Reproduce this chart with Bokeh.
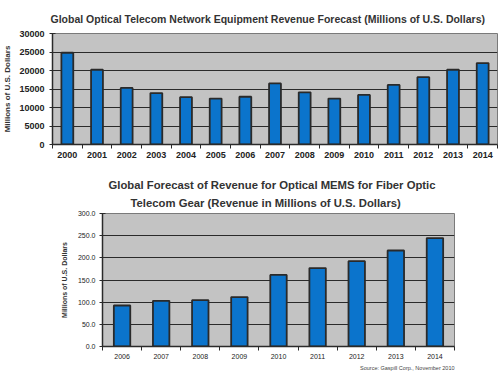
from bokeh.plotting import figure
from bokeh.models import FixedTicker, Range1d, Title, NumeralTickFormatter
from bokeh.embed import file_html
from bokeh.resources import INLINE

# ---- data ----
years_top = ["2000", "2001", "2002", "2003", "2004", "2005", "2006", "2007",
             "2008", "2009", "2010", "2011", "2012", "2013", "2014"]
revenue_top = [24800, 20200, 15300, 13900, 12800, 12400, 12900, 16500,
               14100, 12400, 13400, 16100, 18200, 20200, 22000]

years_bot = ["2006", "2007", "2008", "2009", "2010", "2011", "2012", "2013", "2014"]
revenue_bot = [92.5, 103.0, 104.5, 111.5, 161.5, 177.0, 192.5, 216.5, 244.5]

title_top = "Global Optical Telecom Network Equipment Revenue Forecast (Millions of U.S. Dollars)"
title_bot_1 = "Global Forecast of Revenue for Optical MEMS for Fiber Optic"
title_bot_2 = "Telecom Gear (Revenue in Millions of U.S. Dollars)"
ylabel = "Millions of U.S. Dollars"
source = "Source: Gaspill Corp., November 2010"

FONT = "Liberation Sans"
BAR = "#0b74cc"
BG = "#c3c3c3"
DARK = "#2a2a2a"


def make(years, vals, ymax, ystep, width, height, borders, tick_size,
         ylab_size, fmt, bar_w):
    n = len(years)
    xs = list(range(n))
    p = figure(width=width, height=height, output_backend="svg",
               toolbar_location=None, tools="", title=None,
               x_range=Range1d(-0.5, n - 0.5), y_range=Range1d(0, ymax),
               min_border_left=borders[0], min_border_right=borders[1],
               min_border_top=borders[2], min_border_bottom=borders[3])
    p.background_fill_color = BG
    p.border_fill_color = "white"
    p.outline_line_color = "#7a7a7a"
    p.outline_line_width = 1

    p.vbar(x=xs, top=vals, width=bar_w, fill_color=BAR,
           line_color=DARK, line_width=1.8)

    p.xgrid.visible = False
    p.ygrid.ticker = FixedTicker(ticks=list(range(0, ymax + 1, ystep)))
    p.ygrid.grid_line_color = DARK
    p.ygrid.grid_line_width = 1.2

    xa = p.xaxis[0]
    xa.ticker = FixedTicker(ticks=xs, minor_ticks=[i - 0.5 for i in range(n + 1)])
    xa.major_label_overrides = {i: y for i, y in enumerate(years)}
    xa.major_tick_out = 0
    xa.major_tick_in = 0
    xa.minor_tick_out = 4
    xa.minor_tick_in = 0
    xa.minor_tick_line_color = DARK
    xa.axis_line_color = DARK
    xa.axis_line_width = 1.5
    xa.major_label_standoff = 3
    xa.major_label_text_font = FONT
    xa.major_label_text_font_size = f"{tick_size}px"
    xa.major_label_text_color = "#222222"

    ya = p.yaxis[0]
    ya.ticker = FixedTicker(ticks=list(range(0, ymax + 1, ystep)))
    ya.formatter = NumeralTickFormatter(format=fmt)
    ya.major_tick_out = 3
    ya.major_tick_in = 3
    ya.major_tick_line_color = DARK
    ya.minor_tick_line_color = None
    ya.axis_line_color = DARK
    ya.axis_line_width = 1.5
    ya.major_label_text_font = FONT
    ya.major_label_text_font_size = f"{tick_size}px"
    ya.major_label_text_color = "#222222"
    ya.axis_label = ylabel
    ya.axis_label_text_font = FONT
    ya.axis_label_text_font_size = f"{ylab_size}px"
    ya.axis_label_text_font_style = "bold"
    ya.axis_label_text_color = "#333333"
    return p


def title(text, size, offset, standoff, align="left", bold=True, color="#333333"):
    return Title(text=text, text_font=FONT, text_font_size=f"{size}px",
                 text_font_style="bold" if bold else "normal",
                 text_color=color, align=align, offset=offset,
                 standoff=standoff)


# top chart: frame x 52..497, y 33..144
p1 = make(years_top, revenue_top, 30000, 5000, 500, 163, (52, 3, 33, 19),
          9, 8, "0", 0.4)
p1.yaxis[0].major_label_standoff = 5
p1.yaxis[0].axis_label_standoff = 4
p1.xaxis[0].major_label_text_font_style = "bold"
p1.yaxis[0].major_label_text_font_style = "bold"
p1.add_layout(title(title_top, 10.5, -2, 17), "above")

# bottom chart: frame x 102..454, y 213..346 (page)
p2 = make(years_bot, revenue_bot, 300, 50, 500, 212, (102, 46, 50, 29),
          7, 7, "0.0", 0.42)
p2.yaxis[0].major_label_standoff = 4
p2.yaxis[0].axis_label_standoff = 7
p2.add_layout(title(title_bot_2, 11.3, 28, 9), "above")
p2.add_layout(title(title_bot_1, 11.3, 6, 0), "above")
p2.add_layout(title(source, 5.5, 0, 3, align="right", bold=False,
                    color="#444444"), "below")

open("out.html", "w").write(file_html([p1, p2], INLINE))
